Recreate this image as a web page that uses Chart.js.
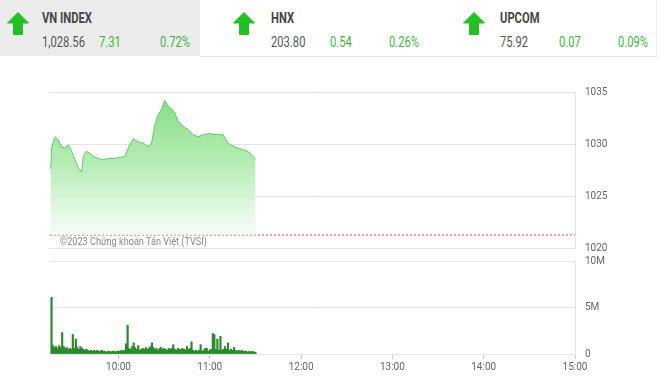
<!DOCTYPE html>
<html><head><meta charset="utf-8">
<script src="https://cdn.jsdelivr.net/npm/chart.js@4.4.0/dist/chart.umd.min.js"></script>
<style>
body{margin:0;width:660px;height:382px;overflow:hidden;background:#fff;font-family:Roboto,"Noto Sans",sans-serif;position:relative}
.box{position:absolute;left:0;top:0;width:200px;height:56px;background:#ececec}
.hline{position:absolute;left:200px;top:56px;width:456px;height:1px;background:#e6e6e6}
.vline{position:absolute;left:656px;top:0;width:1px;height:57px;background:#eeeeee}
.t{position:absolute;white-space:nowrap;transform:scaleX(0.8);transform-origin:0 0;font-size:14px;line-height:16px}
.name{font-weight:700;color:#454545;top:10px}
.val{color:#555;top:34px}
.chg{color:#3fb33f;top:34px}
svg.arrow{position:absolute;top:12px}
canvas{position:absolute;left:0}
#c1{top:80px}
#c2{top:255px}
.copy{position:absolute;left:60px;top:236px;font-size:11px;line-height:12px;color:#8a8a8a;white-space:nowrap;transform:scaleX(0.83);transform-origin:0 0;z-index:2}
</style></head>
<body>
<div class="box"></div><div class="hline"></div><div class="vline"></div>
<div id="hdr"></div>
<canvas id="c1" width="660" height="180"></canvas>
<canvas id="c2" width="660" height="127"></canvas>
<div class="copy">©2023 Chứng khoán Tân Việt (TVSI)</div>
<script>
// header data
const idxNames = ["VN INDEX", "HNX", "UPCOM"];
const idxValues = ["1,028.56", "203.80", "75.92"];
const idxChanges = ["7.31", "0.54", "0.07"];
const idxPercents = ["0.72%", "0.26%", "0.09%"];

// intraday index (minutes after 9:15)
const times = [0.5,1.1,3.3,5.5,7.7,9.8,12.0,14.2,16.4,18.6,20.8,21.9,24.0,26.2,28.4,31.7,35.0,38.3,41.5,45.9,49.2,51.4,54.7,57.9,61.2,64.5,66.7,68.9,71.0,73.2,75.4,77.6,79.8,82.0,84.2,87.4,90.7,94.0,97.3,100.6,104.9,109.3,113.7,116.9,121.3,125.7,130.1,133.4,135.1];
const indexValues = [1027.6,1029.7,1030.7,1030.4,1029.7,1029.6,1029.9,1029.3,1028.5,1027.7,1027.3,1028.8,1029.3,1029.1,1028.8,1028.6,1028.5,1028.6,1028.6,1028.7,1028.8,1029.6,1030.5,1030.2,1030.1,1029.7,1030.1,1031.8,1032.8,1033.3,1034.2,1033.6,1033.4,1033.0,1032.2,1031.7,1031.4,1030.9,1030.7,1030.9,1031.0,1030.9,1030.9,1030.1,1029.7,1029.5,1029.3,1028.8,1028.56];
const prevClose = 1021.25;

// volume per minute (millions), minutes 1..135
const volume = [6.1,0.9,0.7,0.8,0.6,0.9,0.7,2.3,0.8,0.6,0.7,0.5,0.6,0.5,2.1,0.6,1.6,0.7,0.5,0.8,
0.6,0.5,0.4,0.5,0.4,0.3,0.4,0.3,0.4,0.3,0.4,0.3,0.3,0.4,0.3,0.3,0.2,0.3,0.3,0.2,
0.3,0.3,0.2,0.3,0.3,0.3,0.4,0.3,0.4,1.1,3.1,0.6,0.5,0.8,1.2,0.7,0.5,0.9,0.4,0.5,
0.6,0.5,0.7,0.5,0.6,0.8,1.2,0.7,0.5,0.6,0.4,0.6,0.7,0.5,0.6,0.5,0.4,0.6,0.5,0.6,
1.0,0.5,0.4,0.6,0.5,0.5,0.6,0.5,0.4,0.8,0.5,0.6,1.3,0.4,0.3,0.4,0.3,0.4,1.0,0.3,
0.4,0.6,0.6,0.3,0.4,0.5,2.2,2.1,0.5,1.6,0.4,1.9,0.4,0.5,0.8,0.5,1.2,0.4,0.5,0.4,
0.7,0.4,0.3,0.4,0.3,0.4,0.3,0.3,0.3,0.2,0.3,0.2,0.3,0.2,0.2];

const tickMinutes = [45,105,165,225,285,345];
const tickLabels = ["10:00","11:00","12:00","13:00","14:00","15:00"];
const xMin = 0, xMax = 345;

// build header
const hdr = document.getElementById('hdr');
const colName = [42,271,500], colChg = [99,330,559], colPct = [160,389,618], colArrow = [7,233,463];
idxNames.forEach((n,i)=>{
  hdr.insertAdjacentHTML('beforeend',
   `<svg class="arrow" style="left:${colArrow[i]}px" width="22" height="23" viewBox="0 0 22 23"><polygon points="11,0.5 21.5,11 15.5,11 15.5,22.5 6.5,22.5 6.5,11 0.5,11" fill="#22c022" stroke="#22c022" stroke-linejoin="round" stroke-width="1"/></svg>
    <div class="t name" style="left:${colName[i]}px">${n}</div>
    <div class="t val" style="left:${colName[i]}px">${idxValues[i]}</div>
    <div class="t chg" style="left:${colChg[i]}px">${idxChanges[i]}</div>
    <div class="t chg" style="left:${colPct[i]}px">${idxPercents[i]}</div>`);
});

const gridColor = '#e4e4e4';
const tickFont = {family:'Roboto, sans-serif', size:10};

// y axis on the right: label gap made with an invisible tick mark so it adds no vertical padding
function rightAxis(extra){
  return Object.assign({position:'right',
    grid:{color:gridColor,drawTicks:true,tickLength:10,tickColor:'rgba(0,0,0,0)'},
    border:{display:true,color:gridColor},
    afterFit(a){a.width=85;}}, extra);
}

const upper = new Chart(document.getElementById('c1'), {
  type:'line',
  data:{datasets:[
    {data: times.map((t,i)=>({x:t,y:indexValues[i]})), borderColor:'#63c963', borderWidth:1, pointRadius:0, tension:0,
     fill:{value:prevClose},
     backgroundColor(ctx){
       const ch = ctx.chart; if(!ch.chartArea) return 'rgba(0,0,0,0)';
       const ys = ch.scales.y;
       const g = ch.ctx.createLinearGradient(0, ys.getPixelForValue(Math.max(...indexValues)), 0, ys.getPixelForValue(prevClose));
       g.addColorStop(0,'rgba(130,220,130,0.95)');
       g.addColorStop(0.5,'rgba(178,236,178,0.9)');
       g.addColorStop(1,'rgba(240,252,240,0.7)');
       return g;
     }},
    {data:[{x:xMin,y:prevClose},{x:xMax,y:prevClose}], borderColor:'#d44a4a', borderWidth:1, borderDash:[2,2], pointRadius:0, fill:false}
  ]},
  options:{responsive:false, animation:false, events:[],
    layout:{padding:{left:50,right:0,top:12,bottom:12}},
    plugins:{legend:{display:false},tooltip:{enabled:false}},
    scales:{
      x:{type:'linear',min:xMin,max:xMax,display:false},
      y:rightAxis({min:1020,max:1035,
         ticks:{stepSize:5,color:'#666',font:tickFont,padding:0,callback:(v)=>String(v)}})
    }}
});

const lower = new Chart(document.getElementById('c2'), {
  type:'bar',
  data:{datasets:[{data: volume.map((v,i)=>({x:i+1,y:v*1e6})), backgroundColor:'#2a8a2a', barPercentage:1, categoryPercentage:1}]},
  options:{responsive:false, animation:false, events:[],
    layout:{padding:{left:50,right:0,top:6,bottom:0}},
    plugins:{legend:{display:false},tooltip:{enabled:false}},
    scales:{
      x:{type:'linear',min:xMin,max:xMax,offset:false,
         afterBuildTicks(a){a.ticks = tickMinutes.map(v=>({value:v}));},
         ticks:{callback:(v)=>tickLabels[tickMinutes.indexOf(v)], color:'#666', font:tickFont, padding:2, maxRotation:0, autoSkip:false},
         grid:{offset:false,drawOnChartArea:false,drawTicks:true,tickLength:5,color:'#cccccc'},
         border:{display:false},
         afterFit(a){a.height=28;}},
      y:rightAxis({min:0,max:1e7,
         ticks:{stepSize:5e6,color:'#666',font:tickFont,padding:0,callback:(v)=>v===0?'0':(v/1e6)+'M'}})
    }}
});
</script>
</body></html>
